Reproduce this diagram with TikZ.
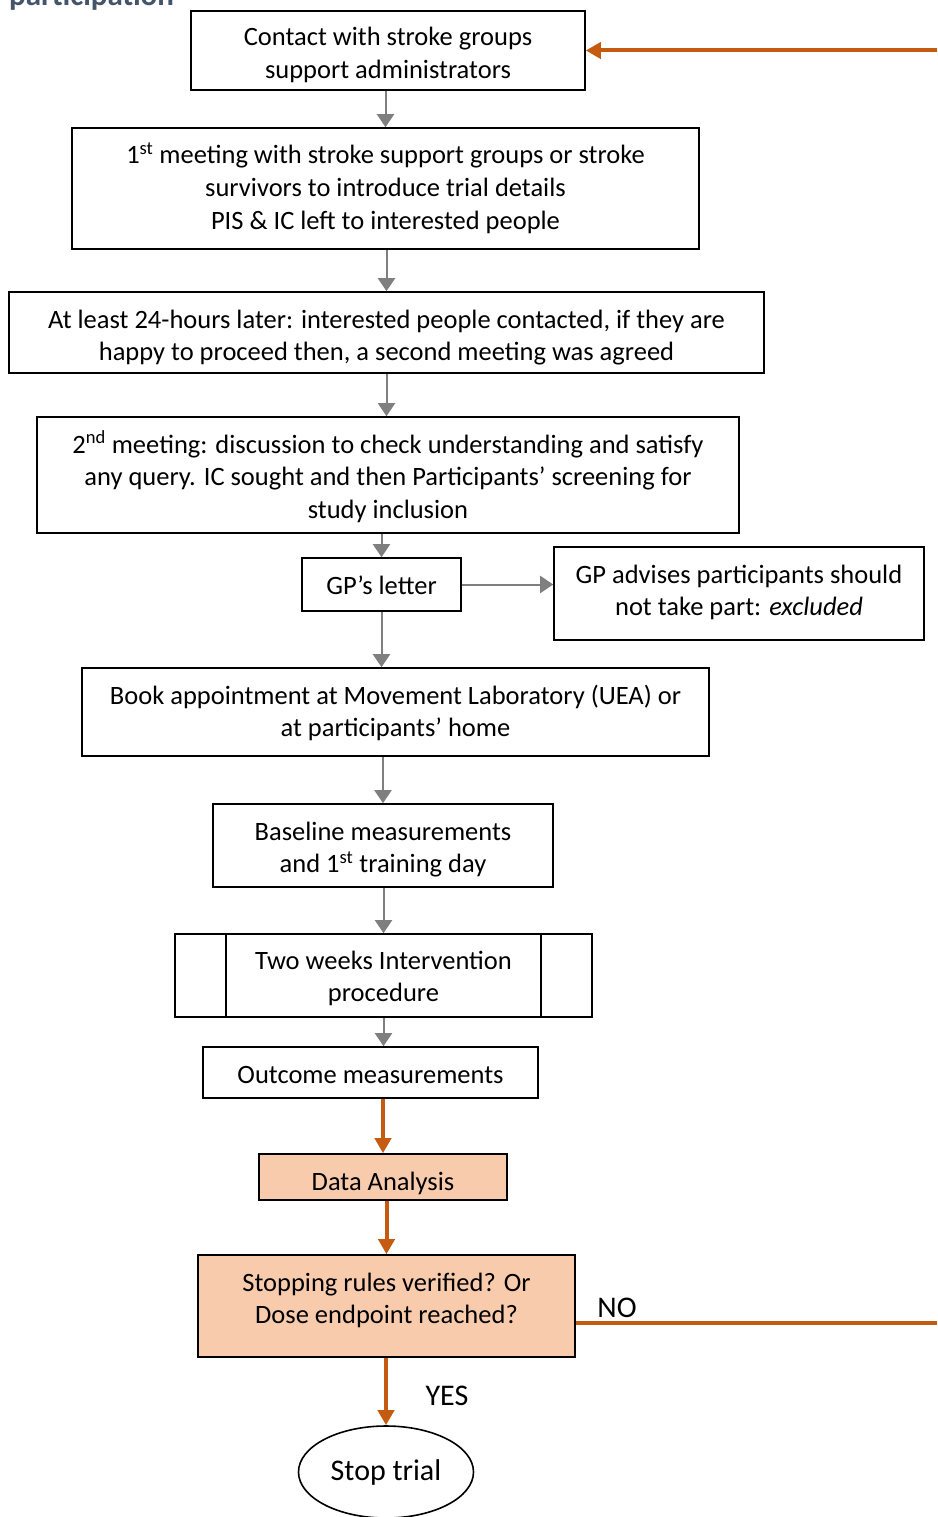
\documentclass[tikz,border=0pt]{standalone}
\usepackage{fontspec}
\setmainfont{Carlito}
\usetikzlibrary{arrows.meta,shapes.geometric,calc}

\definecolor{titleblue}{HTML}{44546A}
\definecolor{flowgrey}{HTML}{7F7F7F}
\definecolor{loopred}{HTML}{C55A11}
\definecolor{peach}{HTML}{F8CBAD}

\tikzset{
  box/.style={draw=black, line width=1.6pt, align=center, inner sep=0pt,
    font=\fontsize{26.5}{32.7}\selectfont},
  hot/.style={box, fill=peach},
  % fixed text box: height above the last baseline, depth below it
  txt/.style={text height=#1pt, text depth=6pt},
  garrow/.style={draw=flowgrey, line width=2pt,
    -{Triangle[length=13pt,width=17pt]}},
  oarrow/.style={draw=loopred, line width=4pt,
    -{Triangle[length=15pt,width=16pt]}},
  oline/.style={draw=loopred, line width=4pt},
  tag/.style={inner sep=0pt, font=\fontsize{30}{36}\selectfont}
}

\begin{document}
\begin{tikzpicture}[x=1pt,y=-1pt]
\useasboundingbox (0,0) rectangle (937,1517);

% heading, mostly above the page edge
\node[anchor=base west, inner sep=0pt, text=titleblue,
  font=\bfseries\fontsize{31}{36}\selectfont] (heading) at (9,6) {participation};

% process steps
\node[box, txt=62.4, minimum width=394pt, minimum height=79pt] (contact) at (388,50.5)
  {Contact with stroke groups\\support administrators};
\node[box, txt=87.8, minimum width=627pt, minimum height=121pt] (meet1) at (385.5,188.5)
  {1\textsuperscript{st} meeting with stroke support groups or stroke\\
   survivors to introduce trial details\\PIS \& IC left to interested people};
\node[box, txt=62.4, minimum width=755pt, minimum height=81pt] (later) at (386.5,332.5)
  {At least 24-hours later: interested people contacted, if they are\\
   happy to proceed then, a second meeting was agreed};
\node[box, txt=92.8, minimum width=702pt, minimum height=116pt] (meet2) at (388,475)
  {2\textsuperscript{nd} meeting: discussion to check understanding and satisfy\\
   any query. IC sought and then Participants’ screening for\\study inclusion};
\node[box, txt=25, minimum width=159pt, minimum height=53pt] (gp) at (381.5,584.5)
  {GP’s letter};
\node[box, txt=50.4, minimum width=370pt, minimum height=93pt] (excl) at (739,593.5)
  {GP advises participants should\\not take part: \textit{excluded}};
\node[box, txt=55.4, minimum width=627pt, minimum height=88pt] (book) at (395.5,712)
  {Book appointment at Movement Laboratory (UEA) or\\at participants’ home};
\node[box, txt=60.4, minimum width=340pt, minimum height=83pt] (base) at (383,845.5)
  {Baseline measurements\\and 1\textsuperscript{st} training day};
\node[box, txt=58.4, minimum width=417pt, minimum height=83pt] (interv) at (383.5,975.5)
  {Two weeks Intervention\\procedure};
\draw[line width=1.6pt] ([xshift=52pt]interv.north west) -- ([xshift=52pt]interv.south west);
\draw[line width=1.6pt] ([xshift=-52pt]interv.north east) -- ([xshift=-52pt]interv.south east);
\node[box, txt=27, minimum width=335pt, minimum height=51pt] (outc) at (370.5,1072.5)
  {Outcome measurements};
\node[hot, txt=32, minimum width=248pt, minimum height=46pt] (data) at (383,1177)
  {Data Analysis};
\node[hot, txt=41.4, minimum width=377pt, minimum height=102pt] (rules) at (386.5,1306)
  {Stopping rules verified? Or\\Dose endpoint reached?};
\node[ellipse, draw=black, line width=1.6pt, inner sep=0pt,
  minimum width=175pt, minimum height=92pt,
  font=\fontsize{30}{36}\selectfont] (stop) at (386,1472) {Stop trial\hspace{12pt}};

% grey connectors
\draw[garrow] (meet1.north |- contact.south) -- (meet1.north);
\draw[garrow] (later.north |- meet1.south) -- (later.north);
\draw[garrow] (later.south) -- (later.south |- meet2.north);
\draw[garrow] (gp.north |- meet2.south) -- (gp.north);
\draw[garrow] (gp.east) -- (gp.east -| excl.west);
\draw[garrow] (gp.south) -- (gp.south |- book.north);
\draw[garrow] (base.north |- book.south) -- (base.north);
\draw[garrow] (interv.north |- base.south) -- (interv.north);
\draw[garrow] (interv.south) -- (interv.south |- outc.north);

% orange decision path
\draw[oarrow] (data.north |- outc.south) -- (data.north);
\draw[oarrow] (rules.north |- data.south) -- (rules.north);
\draw[oarrow] (stop.north |- rules.south) -- (stop.north);

\coordinate (loopin) at (937,50.5);
\coordinate (loopout) at (937,1323);
\draw[oarrow] (loopin) -- (contact.east);
\draw[oline] (rules.east |- loopout) -- (loopout);

\node[tag] (no) at (617,1308) {NO};
\node[tag] (yes) at (447,1396) {YES};
\end{tikzpicture}
\end{document}
